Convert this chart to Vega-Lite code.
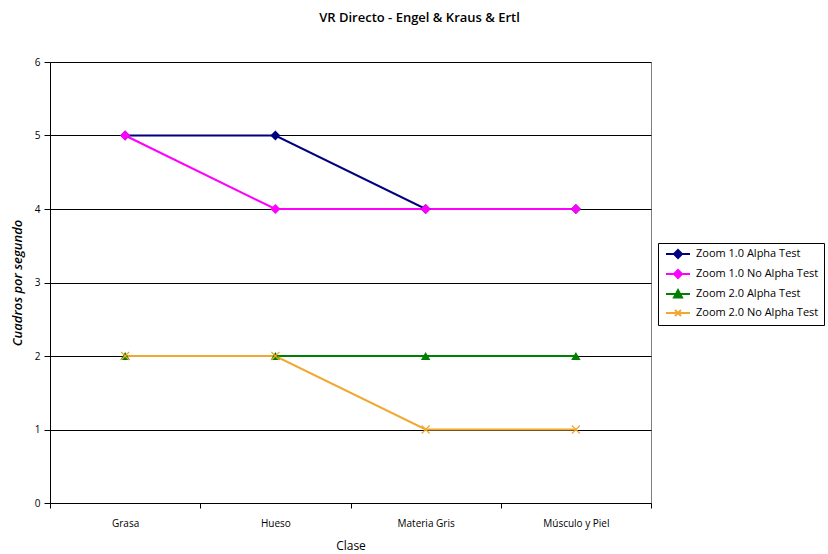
{
  "$schema": "https://vega.github.io/schema/vega-lite/v6.json",
  "width": 601,
  "height": 441,
  "autosize": {"type": "none"},
  "padding": {"left": 50, "top": 62, "right": 177, "bottom": 51},
  "background": "white",
  "title": {
    "text": "VR Directo - Engel & Kraus & Ertl",
    "font": "Open Sans",
    "fontSize": 13,
    "fontWeight": 600,
    "color": "#000000",
    "anchor": "middle",
    "dx": 69,
    "offset": 32
  },
  "config": {
    "view": {"stroke": "#808080", "strokeWidth": 1},
    "font": "Open Sans",
    "axis": {
      "labelFont": "Open Sans",
      "labelFontSize": 10,
      "labelColor": "#000000",
      "titleFont": "Open Sans",
      "titleColor": "#000000",
      "domainColor": "#000000",
      "tickColor": "#000000",
      "tickSize": 6
    }
  },
  "data": {
    "values": [
      {"series": "Zoom 1.0 Alpha Test", "clase": "Grasa", "fps": 5},
      {"series": "Zoom 1.0 Alpha Test", "clase": "Hueso", "fps": 5},
      {"series": "Zoom 1.0 Alpha Test", "clase": "Materia Gris", "fps": 4},
      {"series": "Zoom 1.0 Alpha Test", "clase": "Músculo y Piel", "fps": 4},
      {"series": "Zoom 1.0 No Alpha Test", "clase": "Grasa", "fps": 5},
      {"series": "Zoom 1.0 No Alpha Test", "clase": "Hueso", "fps": 4},
      {"series": "Zoom 1.0 No Alpha Test", "clase": "Materia Gris", "fps": 4},
      {"series": "Zoom 1.0 No Alpha Test", "clase": "Músculo y Piel", "fps": 4},
      {"series": "Zoom 2.0 Alpha Test", "clase": "Grasa", "fps": 2},
      {"series": "Zoom 2.0 Alpha Test", "clase": "Hueso", "fps": 2},
      {"series": "Zoom 2.0 Alpha Test", "clase": "Materia Gris", "fps": 2},
      {"series": "Zoom 2.0 Alpha Test", "clase": "Músculo y Piel", "fps": 2},
      {"series": "Zoom 2.0 No Alpha Test", "clase": "Grasa", "fps": 2},
      {"series": "Zoom 2.0 No Alpha Test", "clase": "Hueso", "fps": 2},
      {"series": "Zoom 2.0 No Alpha Test", "clase": "Materia Gris", "fps": 1},
      {"series": "Zoom 2.0 No Alpha Test", "clase": "Músculo y Piel", "fps": 1}
    ]
  },
  "encoding": {
    "x": {
      "field": "clase",
      "type": "nominal",
      "sort": null,
      "scale": {"type": "band", "paddingInner": 0, "paddingOuter": 0},
      "axis": {
        "title": "Clase",
        "titleFontSize": 12,
        "titleFontWeight": "normal",
        "titlePadding": 12,
        "labelAngle": 0,
        "labelPadding": 10,
        "tickBand": "extent",
        "grid": false,
        "tickSize": 5
      }
    },
    "y": {
      "field": "fps",
      "type": "quantitative",
      "scale": {"domain": [0, 6], "nice": false},
      "axis": {
        "title": "Cuadros por segundo",
        "titleFontSize": 13,
        "titleFontWeight": 600,
        "titleFontStyle": "italic",
        "titlePadding": 10,
        "values": [0, 1, 2, 3, 4, 5, 6],
        "grid": true,
        "gridColor": "#000000",
        "gridWidth": 1,
        "gridOpacity": 1,
        "labelPadding": 4,
        "tickSize": 6
      }
    },
    "color": {
      "field": "series",
      "type": "nominal",
      "scale": {
        "domain": ["Zoom 1.0 Alpha Test", "Zoom 1.0 No Alpha Test", "Zoom 2.0 Alpha Test", "Zoom 2.0 No Alpha Test"],
        "range": ["#000080", "#FF00FF", "#008000", "#F0A830"]
      },
      "legend": {
        "title": null,
        "orient": "none",
        "legendX": 608,
        "legendY": 181,
        "strokeColor": "#000000",
        "fillColor": "#ffffff",
        "padding": 5,
        "labelFont": "Open Sans",
        "labelFontSize": 11,
        "labelColor": "#000000",
        "symbolOffset": 9,
        "labelOffset": 12,
        "rowPadding": 4,
        "symbolSize": 100,
        "symbolStrokeWidth": 2,
        "symbolType": "stroke",
        "encode": {
          "symbols": {
            "update": {
              "shape": {"signal": "datum.value === 'Zoom 2.0 Alpha Test' ? 'M-2.4,0H2.4M-0.8,0.7L0,-0.8L0.8,0.7Z' : datum.value === 'Zoom 2.0 No Alpha Test' ? 'M-2.4,0H2.4M-0.6,-0.6L0.6,0.6M-0.6,0.6L0.6,-0.6' : 'M-2.4,0H2.4M-0.8,0L0,-0.8L0.8,0L0,0.8Z'"},
              "fill": {"scale": "color", "field": "value"},
              "stroke": {"scale": "color", "field": "value"},
              "strokeWidth": {"value": 2}
            }
          }
        }
      }
    }
  },
  "layer": [
    {
      "mark": {"type": "line", "strokeWidth": 2}
    },
    {
      "transform": [{"filter": "datum.series === 'Zoom 1.0 Alpha Test'"}],
      "mark": {"type": "point", "filled": true, "opacity": 1, "shape": "diamond", "size": 100}
    },
    {
      "transform": [{"filter": "datum.series === 'Zoom 1.0 No Alpha Test'"}],
      "mark": {"type": "point", "filled": true, "opacity": 1, "shape": "diamond", "size": 100}
    },
    {
      "transform": [{"filter": "datum.series === 'Zoom 2.0 Alpha Test'"}],
      "mark": {"type": "point", "filled": true, "opacity": 1, "shape": "triangle-up", "size": 90}
    },
    {
      "transform": [{"filter": "datum.series === 'Zoom 2.0 No Alpha Test'"}],
      "mark": {"type": "point", "filled": false, "opacity": 1, "shape": "M-1,-1L1,1M-1,1L1,-1", "size": 64, "strokeWidth": 1.2}
    }
  ]
}
